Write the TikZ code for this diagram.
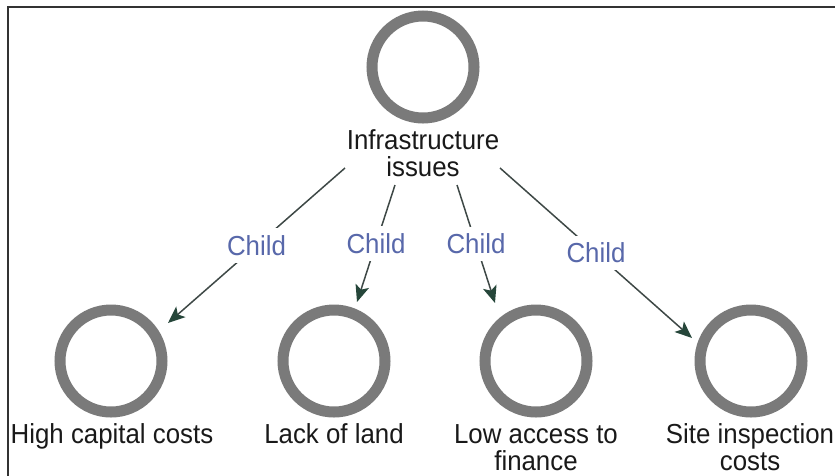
\documentclass[tikz,border=0pt]{standalone}
\usepackage{fontspec}
\setmainfont{Liberation Sans}[FakeStretch=0.94]
\usetikzlibrary{arrows.meta}
\definecolor{ringgray}{RGB}{122,122,122}
\definecolor{edgegray}{RGB}{62,72,70}
\definecolor{tipgreen}{RGB}{38,70,58}
\definecolor{relblue}{RGB}{88,104,170}
\definecolor{captext}{RGB}{25,25,25}
\begin{document}
\begin{tikzpicture}[x=1pt,y=-1pt,
  concept/.style={circle,draw=ringgray,line width=11pt,minimum size=102pt,inner sep=0pt},
  caption/.style={font=\fontsize{27.5}{27.5}\selectfont,text=captext,align=center,inner sep=0pt,anchor=base},
  link/.style={draw=edgegray,line width=1.5pt,-{Stealth[length=17pt,width=14pt,inset=4pt,color=tipgreen]}},
  childtag/.style={font=\fontsize{27.5}{27.5}\selectfont,text=relblue,fill=white,inner xsep=3pt,inner ysep=7pt,midway}]
\useasboundingbox (0,0) rectangle (835,475);

% window frame (top and left edges)
\draw[line width=2pt,black!80] (8,476) -- (8,7) -- (836,7);

% concepts (two-line captions are anchored at their last baseline)
\node[concept] (root) at (423,67) {};
\node[caption] (rootlbl) at (423,176.5) {Infrastructure\\issues};

\node[concept] (c1) at (111,361) {};
\node[concept] (c2) at (334,361) {};
\node[concept] (c3) at (536,361) {};
\node[concept] (c4) at (751,361) {};

\node[caption] (l1) at (112,443) {High capital costs};
\node[caption] (l2) at (334,443) {Lack of land};
\node[caption] (l3) at (536,470.5) {Low access to\\finance};
\node[caption] (l4) at (750,470.5) {Site inspection\\costs};

% child relations
\draw[link] ([shift={(-78,101)}]root.center) -- ([shift={(57,-38)}]c1.center) node[childtag] {Child};
\draw[link] ([shift={(-28,118)}]root.center) -- ([shift={(23,-59)}]c2.center) node[childtag] {Child};
\draw[link] ([shift={(34,118)}]root.center) -- ([shift={(-41,-58)}]c3.center) node[childtag] {Child};
\draw[link] ([shift={(77,101)}]root.center) -- ([shift={(-59,-23)}]c4.center) node[childtag] {Child};
\end{tikzpicture}
\end{document}
